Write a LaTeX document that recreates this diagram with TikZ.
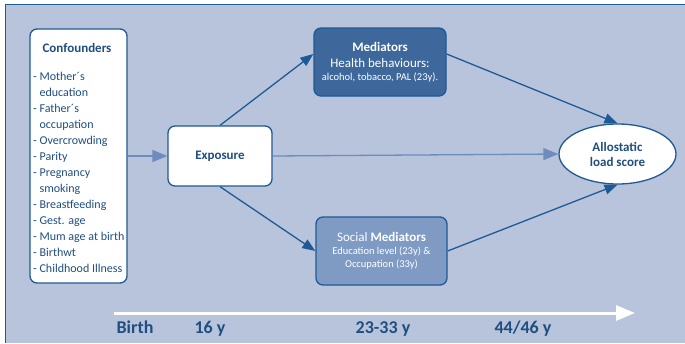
\documentclass[tikz,border=0pt]{standalone}
\usepackage{fontspec}
\setmainfont{Carlito}
\usepackage{tikz}
\usetikzlibrary{arrows.meta,shapes.geometric}
\definecolor{panel}{HTML}{B8C4DC}
\definecolor{boxline}{HTML}{1F5A96}
\definecolor{navy}{HTML}{1F4E80}
\definecolor{medfill}{HTML}{3E689B}
\definecolor{socfill}{HTML}{7F9BC4}
\definecolor{pale}{HTML}{6E8CBE}
\tikzset{d/.style={line width=1.3pt}}

\begin{document}
\begin{tikzpicture}[x=1pt,y=-1pt,
label/.style={text=navy, inner sep=0pt, align=center, font=\fontsize{13}{15}\selectfont\bfseries},
box/.style={label, draw=boxline, fill=white, line width=1.3pt, rounded corners=7pt},
med/.style={box, text=white, font=\fontsize{13}{15}\selectfont},
tip/.style={-{Triangle[length=13pt,width=10pt]}},
year/.style={anchor=base, text=navy, font=\fontsize{18}{20}\selectfont\bfseries},
]
\useasboundingbox (0,0) rectangle (685,343);
\fill[panel] (5,4) rectangle (685,343);
\draw[boxline, line width=1.5pt] (685,4.5) -- (5.5,4.5) -- (5.5,343);

% boxes
\node[box, minimum width=97pt, minimum height=254pt] (C) at (78.5,156) {};
\node[label] (Ct) at (77,48) {Confounders};
\node[anchor=north west, align=left, text=navy, inner sep=0pt,
  font=\fontsize{12}{16}\selectfont] (Cl) at (33,72) {%
- Mother´s\\\phantom{- }education\\- Father´s\\\phantom{- }occupation\\
- Overcrowding\\- Parity\\- Pregnancy\\\phantom{- }smoking\\
- Breastfeeding\\- Gest. age\\- Mum age at birth\\- Birthwt\\- Childhood Illness};
\node[box, minimum width=104pt, minimum height=60pt] (E) at (220,156) {Exposure};
\node[med, fill=medfill, minimum width=132pt, minimum height=68pt] (M) at (380,62)
  {\textbf{Mediators}\\[1pt]Health behaviours:\\[-2pt]{\fontsize{10.5}{13}\selectfont alcohol, tobacco, PAL (23y).}};
\node[med, fill=socfill, minimum width=131pt, minimum height=68pt] (S) at (381.5,251)
  {Social \textbf{Mediators}\\[-2pt]{\fontsize{10.5}{13}\selectfont Education level (23y) \&}\\[-2pt]{\fontsize{10.5}{13}\selectfont Occupation (33y)}};
\node[box, ellipse, minimum width=117pt, minimum height=60pt] (A) at (617.5,154) {Allostatic\\load score};

% paths
\draw[d, pale, -{Triangle[length=15pt,width=12pt]}] (C.east) -- (E.west);
\draw[d, pale, -{Triangle[length=15pt,width=12pt]}] (E.east) -- (A.west);
\draw[d, boxline, tip] (E.north) -- ([yshift=8pt]M.west);
\draw[d, boxline, tip] ([yshift=8pt]M.east) -- (A.north);
\draw[d, boxline, tip] (E.south) -- (S.west);
\draw[d, boxline, tip] (S.east) -- (A.south);

% time line
\coordinate (t0) at (114,313);
\coordinate (t1) at (635,313);
\draw[white, line width=3pt, -{Triangle[length=19pt,width=15pt]}] (t0) -- (t1);
\node[year] (birth) at (135,333) {Birth};
\node[year] (y16) at (210,333) {16 y};
\node[year] (y23) at (383,333) {23-33 y};
\node[year] (y44) at (523,333) {44/46 y};
\end{tikzpicture}
\end{document}
